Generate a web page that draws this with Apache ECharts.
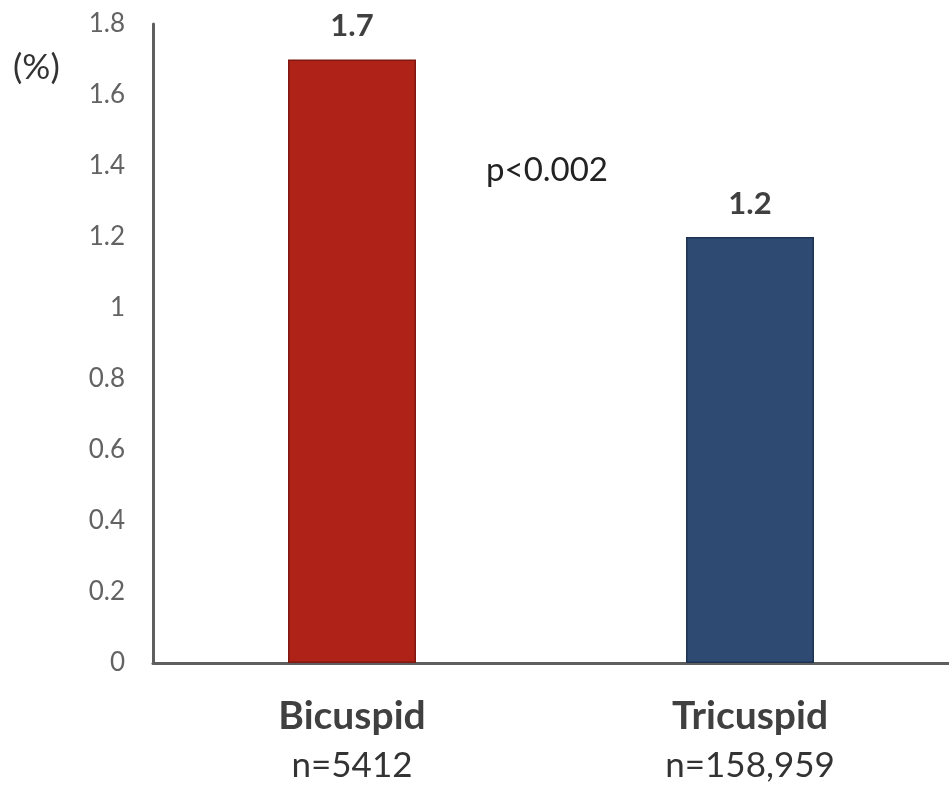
<!DOCTYPE html>
<html>
<head>
<meta charset="utf-8">
<script src="https://cdn.jsdelivr.net/npm/echarts@6/dist/echarts.min.js"></script>
<style>
  html, body { margin: 0; padding: 0; background: #ffffff; }
  #chart { width: 949px; height: 791px; }
</style>
</head>
<body>
<div id="chart"></div>
<script>
// Valve morphology groups, their cohort sizes and event rates (%)
const categories = ['Bicuspid', 'Tricuspid'];
const sampleSizes = ['5412', '158,959'];
const rates = [1.7, 1.2];
const barColors = ['#AE2218', '#2E4A72'];
const barBorders = ['#7E1810', '#1E3352'];
const yTicks = { min: 0, max: 1.8, step: 0.2 };
const pValueText = 'p<0.002';
const unitText = '(%)';

const FONT = 'Lato, "Open Sans", sans-serif';
const chart = echarts.init(document.getElementById('chart'), null, { renderer: 'canvas' });

chart.setOption({
  backgroundColor: '#ffffff',
  animation: false,
  grid: { left: 153, right: -8, top: 24, bottom: 128, containLabel: false },
  xAxis: {
    type: 'category',
    data: categories,
    axisLine: { show: true, lineStyle: { color: '#5f5f5f', width: 3 } },
    axisTick: { show: false },
    axisLabel: {
      margin: 28,
      interval: 0,
      formatter: (v, i) => '{name|' + v + '}\n{n|n=' + sampleSizes[i] + '}',
      rich: {
        name: { fontFamily: FONT, fontWeight: 'bold', fontSize: 39, color: '#404040', lineHeight: 50 },
        n: { fontFamily: FONT, fontSize: 35, color: '#333333', lineHeight: 50 }
      }
    }
  },
  yAxis: {
    type: 'value',
    min: yTicks.min,
    max: yTicks.max,
    interval: yTicks.step,
    splitLine: { show: false },
    axisTick: { show: false },
    axisLine: { show: true, lineStyle: { color: '#5f5f5f', width: 3 } },
    axisLabel: {
      margin: 28,
      fontFamily: FONT,
      fontSize: 26,
      color: '#636363',
      formatter: v => String(Math.round(v * 10) / 10)
    }
  },
  series: [{
    type: 'bar',
    data: rates.map((v, i) => ({
      value: v,
      itemStyle: { color: barColors[i], borderColor: barBorders[i], borderWidth: 1.5 }
    })),
    barWidth: 128,
    label: {
      show: true,
      position: 'top',
      distance: 18,
      fontFamily: FONT,
      fontWeight: 'bold',
      fontSize: 31,
      color: '#404040',
      formatter: p => p.value.toFixed(1)
    }
  }],
  graphic: [
    {
      type: 'text',
      left: 486,
      top: 154,
      style: { text: pValueText, fontFamily: FONT, fontSize: 33, fill: '#222222' }
    },
    {
      type: 'text',
      left: 13,
      top: 50,
      style: { text: unitText, fontFamily: FONT, fontSize: 35, fill: '#333333' }
    }
  ]
});
</script>
</body>
</html>
